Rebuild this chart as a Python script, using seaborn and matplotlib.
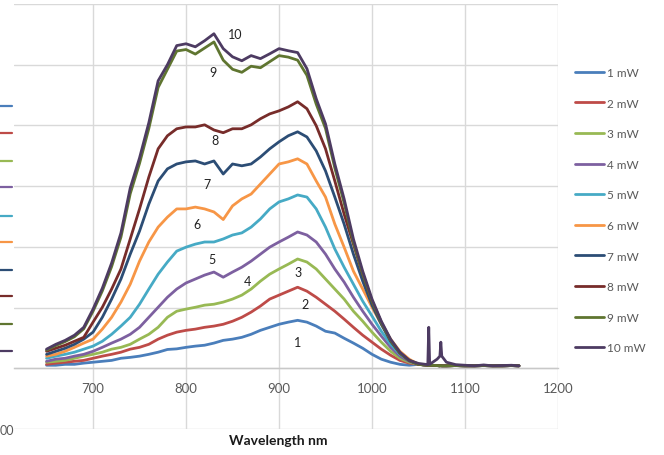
import matplotlib
matplotlib.use("Agg")
import matplotlib.pyplot as plt
from matplotlib.lines import Line2D
import seaborn as sns
import pandas as pd

# Emission spectra for increasing pump power
wavelength = [650, 660, 670, 680, 690, 700, 710, 720, 730, 740,
              750, 760, 770, 780, 790, 800, 810, 820, 830, 840,
              850, 860, 870, 880, 890, 900, 910, 920, 930, 940,
              950, 960, 970, 980, 990, 1000, 1010, 1020, 1030, 1040,
              1050, 1060, 1061, 1062, 1070, 1073, 1074, 1075, 1080, 1090,
              1100, 1110, 1120, 1130, 1140, 1150, 1158]

baseline_tail = [13, 10, 9, 10, 9, 8, 9, 8, 8, 9, 8, 8, 9, 8, 8, 9, 8]

p1 = [10, 10, 13, 13, 17, 20, 23, 26, 33, 36, 40, 46, 53, 62, 64, 69, 73, 76, 83, 92,
      96, 102, 112, 125, 135, 145, 152, 158, 152, 139, 122, 116, 99, 83, 66, 46, 30, 20, 13, 10] + baseline_tail
p2 = [13, 17, 20, 23, 26, 33, 40, 46, 53, 63, 69, 79, 96, 109, 119, 125, 129, 135, 139, 145,
      155, 168, 185, 205, 228, 241, 254, 267, 254, 234, 211, 188, 162, 135, 109, 86, 63, 43, 26, 17] + baseline_tail
p3 = [20, 23, 26, 33, 40, 46, 53, 63, 69, 79, 96, 112, 135, 168, 188, 195, 201, 208, 211, 218,
      228, 241, 261, 287, 310, 327, 343, 360, 350, 327, 294, 261, 228, 188, 155, 119, 86, 56, 33, 20] + baseline_tail
p4 = [23, 30, 33, 40, 46, 56, 69, 83, 96, 112, 135, 168, 201, 234, 261, 281, 294, 307, 317, 300,
      317, 333, 353, 376, 399, 416, 432, 449, 439, 416, 376, 327, 284, 234, 188, 145, 106, 69, 40, 23] + baseline_tail
p5 = [33, 40, 46, 53, 63, 73, 89, 112, 139, 168, 211, 261, 310, 350, 386, 399, 409, 416, 416, 426,
      439, 446, 465, 492, 525, 548, 558, 571, 564, 525, 465, 393, 333, 277, 221, 172, 122, 79, 46, 26] + baseline_tail
p6 = [40, 46, 56, 69, 83, 96, 129, 168, 218, 277, 353, 416, 465, 498, 525, 525, 531, 525, 515, 490,
      535, 558, 574, 607, 640, 673, 680, 690, 673, 617, 564, 475, 399, 320, 261, 201, 145, 96, 56, 30] + baseline_tail
p7 = [46, 56, 66, 79, 96, 119, 168, 228, 294, 376, 452, 541, 617, 657, 673, 680, 683, 673, 683, 640,
      673, 667, 673, 696, 723, 746, 766, 779, 762, 716, 650, 564, 475, 376, 287, 208, 145, 89, 50, 26] + baseline_tail
p8 = [56, 66, 76, 89, 102, 152, 201, 261, 327, 426, 525, 630, 723, 766, 789, 795, 795, 802, 785, 776,
      789, 789, 802, 822, 838, 848, 861, 878, 855, 799, 723, 617, 508, 409, 310, 221, 152, 92, 50, 26] + baseline_tail
p9 = [60, 75, 88, 104, 130, 188, 255, 335, 432, 575, 675, 790, 925, 985, 1045, 1050, 1035, 1055, 1075, 1015,
      985, 975, 995, 990, 1010, 1030, 1025, 1015, 965, 870, 790, 660, 545, 415, 312, 222, 150, 92, 50, 25] + baseline_tail
p10 = [63, 79, 92, 109, 135, 195, 264, 347, 446, 594, 693, 809, 947, 1000, 1063, 1069, 1059, 1079, 1102, 1053,
       1026, 1013, 1030, 1020, 1036, 1053, 1046, 1040, 987, 888, 805, 673, 558, 426, 320, 228, 155, 96, 53, 26,
       16, 12, 135, 13, 30, 40, 86, 40, 20, 12, 10, 8, 11, 8, 9, 10, 8]

series_names = ["1 mW", "2 mW", "3 mW", "4 mW", "5 mW",
                "6 mW", "7 mW", "8 mW", "9 mW", "10 mW"]
series_values = [p1, p2, p3, p4, p5, p6, p7, p8, p9, p10]

curve_tags = ["1", "2", "3", "4", "5", "6", "7", "8", "9", "10"]
x_ticks = [700, 800, 900, 1000, 1100, 1200]
y_ticks = [-200, 0, 200, 400, 600, 800, 1000, 1200]
y_tick_text = ["00", "", "", "", "", "", "", ""]

colors = ["#4A7EBB", "#BE4B48", "#98B954", "#7D60A0", "#46AAC5",
          "#F79646", "#2C4D75", "#772C2A", "#5F7530", "#4D3B62"]

rows = []
for name, vals in zip(series_names, series_values):
    for w, v in zip(wavelength, vals):
        rows.append({"Wavelength": w, "Intensity": v, "Power": name})
df = pd.DataFrame(rows)

sns.set_style("white")
plt.rcParams["font.family"] = ["Lato", "DejaVu Sans"]

W, H = 664, 456
fig = plt.figure(figsize=(W / 100, H / 100), dpi=100)
ax = fig.add_axes([14 / W, 26 / H, 544 / W, 425 / H])

sns.lineplot(data=df, x="Wavelength", y="Intensity", hue="Power",
             hue_order=series_names, palette=colors, estimator=None,
             linewidth=2.0, ax=ax, legend=False)

ax.set_xlim(615, 1200)
ax.set_ylim(-200, 1200)
ax.set_xticks(x_ticks)
ax.set_yticks(y_ticks)
ax.set_yticklabels(y_tick_text)
ax.grid(True, color="#D9D9D9", linewidth=1.0)
ax.set_axisbelow(True)

for side in ["top", "right", "left"]:
    ax.spines[side].set_visible(False)
ax.spines["bottom"].set_position(("data", 0))
ax.spines["bottom"].set_color("#C8C8C8")
ax.spines["bottom"].set_linewidth(1.0)

ax.tick_params(axis="x", length=0, pad=10, labelsize=9.5, labelcolor="#595959")
ax.tick_params(axis="y", length=0, pad=10, labelsize=9, labelcolor="#595959")
for lbl in ax.get_yticklabels():
    lbl.set_horizontalalignment("left")

ax.set_ylabel("")
ax.set_xlabel("Wavelength nm", fontsize=10, fontweight="bold", color="#1A1A1A")
ax.xaxis.label.set_va("center")
ax.xaxis.set_label_coords(0.485, -0.026)

# numbers next to each curve
tag_x = [920, 928, 920, 866, 828, 812, 823, 831, 829, 853]
tag_y = [86, 211, 317, 287, 360, 475, 607, 752, 977, 1102]
for t, tx, ty in zip(curve_tags, tag_x, tag_y):
    ax.text(tx, ty, t, ha="center", va="center", fontsize=9, color="#222222")

handles = [Line2D([], [], color=c, linewidth=2.0) for c in colors]
ax.legend(handles, series_names, loc="upper left",
          bbox_to_anchor=(575 / W, 1 - 68 / H), bbox_transform=fig.transFigure,
          frameon=False, borderaxespad=0, borderpad=0, fontsize=8.5,
          labelcolor="#595959", handlelength=2.45, handletextpad=0.3,
          labelspacing=1.66)

# key stubs at the left edge
stub_y = [107, 134, 162, 188, 217, 243, 271, 297, 325, 352]
for c, py in zip(colors, stub_y):
    fig.add_artist(Line2D([0, 12 / W], [1 - py / H, 1 - py / H],
                          transform=fig.transFigure, color=c, linewidth=1.6))

fig.savefig("out.png", dpi=100)
